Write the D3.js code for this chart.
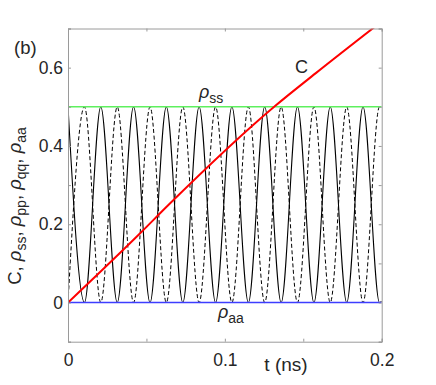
<!DOCTYPE html>
<html>
<head>
<meta charset="utf-8">
<script src="https://cdn.jsdelivr.net/npm/d3@7"></script>
<style>
  body { margin: 0; background: #fff; }
  svg text { font-family: "Liberation Sans", Arial, Helvetica, sans-serif; fill: #262626; }
  .axis path, .axis line { stroke: #9a9a9a; }
  .axis text { font-size: 17.5px; }
</style>
</head>
<body>
<div id="chart"></div>
<script>
// times of the peaks and troughs of the two oscillating populations (ns)
var extremaT = [0, 0.0105, 0.0209, 0.0314, 0.0418, 0.0523, 0.0627, 0.0732, 0.0836, 0.0941,
  0.1045, 0.1150, 0.1254, 0.1359, 0.1463, 0.1568, 0.1672, 0.1777, 0.1881, 0.1986, 0.2];
var rhoPP = [0.5, 0, 0.5, 0, 0.5, 0, 0.5, 0, 0.5, 0, 0.5, 0, 0.5, 0, 0.5, 0, 0.5, 0, 0.5, 0, 0.003];
var rhoQQ = [0, 0.5, 0, 0.5, 0, 0.5, 0, 0.5, 0, 0.5, 0, 0.5, 0, 0.5, 0, 0.5, 0, 0.5, 0, 0.5, 0.497];

// concurrence C
var cT = [0, 0.046, 0.064, 0.132, 0.158, 0.2];
var cV = [0, 0.177, 0.249, 0.502, 0.586, 0.718];

var rhoSS = [[0, 0.5], [0.2, 0.5]];
var rhoAA = [[0, 0], [0.2, 0]];

var xTicks = [0, 0.05, 0.1, 0.15, 0.2];
var xLabels = [0, 0.1, 0.2];
var yTicks = [-0.1, 0, 0.1, 0.2, 0.3, 0.4, 0.5, 0.6, 0.7];
var yLabels = [0, 0.2, 0.4, 0.6];

var width = 436, height = 385;
var margins = { top: 28.5, right: 54.3, bottom: 43.3, left: 68 };
var chartWidth = width - margins.left - margins.right;
var chartHeight = height - margins.top - margins.bottom;

var svg = d3.select("#chart").append("svg")
  .attr("width", width)
  .attr("height", height);

var chartElement = svg.append("g")
  .attr("transform", `translate(${margins.left},${margins.top})`);

var xScale = d3.scaleLinear().domain([0, 0.2]).range([0, chartWidth]);
var yScale = d3.scaleLinear().domain([-0.1, 0.7]).range([chartHeight, 0]);

chartElement.append("defs").append("clipPath").attr("id", "plot-clip")
  .append("rect").attr("width", chartWidth).attr("height", chartHeight);

var line = d3.line()
  .x(d => xScale(d[0]))
  .y(d => yScale(d[1]));

var smooth = d3.line()
  .x(d => xScale(d[0]))
  .y(d => yScale(d[1]))
  .curve(d3.curveMonotoneX);

var plot = chartElement.append("g").attr("clip-path", "url(#plot-clip)");

// oscillations
plot.append("path")
  .attr("d", smooth(extremaT.map((t, i) => [t, rhoQQ[i]])))
  .attr("fill", "none")
  .attr("stroke", "#000")
  .attr("stroke-width", 1)
  .attr("stroke-dasharray", "4,2.5");

plot.append("path")
  .attr("d", smooth(extremaT.map((t, i) => [t, rhoPP[i]])))
  .attr("fill", "none")
  .attr("stroke", "#000")
  .attr("stroke-width", 1.1);

// flat populations
plot.append("path")
  .attr("d", line(rhoSS))
  .attr("fill", "none")
  .attr("stroke", "#5ef05e")
  .attr("stroke-width", 1.6);

plot.append("path")
  .attr("d", line(rhoAA))
  .attr("fill", "none")
  .attr("stroke", "#3d3dff")
  .attr("stroke-width", 1.6);

// concurrence
plot.append("path")
  .attr("d", smooth(cT.map((t, i) => [t, cV[i]])))
  .attr("fill", "none")
  .attr("stroke", "#ff0000")
  .attr("stroke-width", 2);

// axes, ticks inward on all four sides
var fmt = d => (xLabels.indexOf(d) >= 0 ? d3.format("")(d) : "");
var fmtY = d => (yLabels.some(v => Math.abs(v - d) < 1e-9) ? (Math.abs(d) < 1e-9 ? "0" : d3.format(".1f")(d)) : "");

chartElement.append("g")
  .attr("class", "x axis")
  .attr("transform", `translate(0,${chartHeight})`)
  .call(d3.axisBottom(xScale).tickValues(xTicks).tickSize(-3).tickPadding(12).tickFormat(fmt));

chartElement.append("g")
  .attr("class", "x axis")
  .call(d3.axisTop(xScale).tickValues(xTicks).tickSize(-3).tickFormat(""));

chartElement.append("g")
  .attr("class", "y axis")
  .call(d3.axisLeft(yScale).tickValues(yTicks).tickSize(-3).tickPadding(5).tickFormat(fmtY));

chartElement.append("g")
  .attr("class", "y axis")
  .attr("transform", `translate(${chartWidth},0)`)
  .call(d3.axisRight(yScale).tickValues(yTicks).tickSize(-3).tickFormat(""));

chartElement.selectAll(".axis .domain").attr("stroke", "#9a9a9a");

// labels
svg.append("text")
  .attr("x", 286)
  .attr("y", 371)
  .attr("text-anchor", "middle")
  .attr("font-size", "19px")
  .text("t (ns)");

var yLabel = svg.append("text")
  .attr("transform", "translate(21,206) rotate(-90)")
  .attr("text-anchor", "middle")
  .attr("font-size", "18.5px");
yLabel.append("tspan").text("C, ");
[["ss", ", "], ["pp", ", "], ["qq", ", "], ["aa", ""]].forEach(p => {
  yLabel.append("tspan").attr("font-style", "italic").text("\u03c1");
  yLabel.append("tspan").attr("font-size", "14px").attr("dy", 5).text(p[0]);
  if (p[1]) yLabel.append("tspan").attr("dy", -5).text(p[1]);
});

svg.append("text")
  .attr("x", 14)
  .attr("y", 54)
  .attr("font-size", "18.5px")
  .text("(b)");

svg.append("text")
  .attr("x", 295)
  .attr("y", 73)
  .attr("font-size", "18px")
  .text("C");

var addRho = function(x, y, sub) {
  var t = svg.append("text").attr("x", x).attr("y", y).attr("font-size", "18px");
  t.append("tspan").attr("font-style", "italic").text("\u03c1");
  t.append("tspan").attr("font-size", "14px").attr("dy", 5).text(sub);
};
addRho(199, 98, "ss");
addRho(218, 318, "aa");
</script>
</body>
</html>
